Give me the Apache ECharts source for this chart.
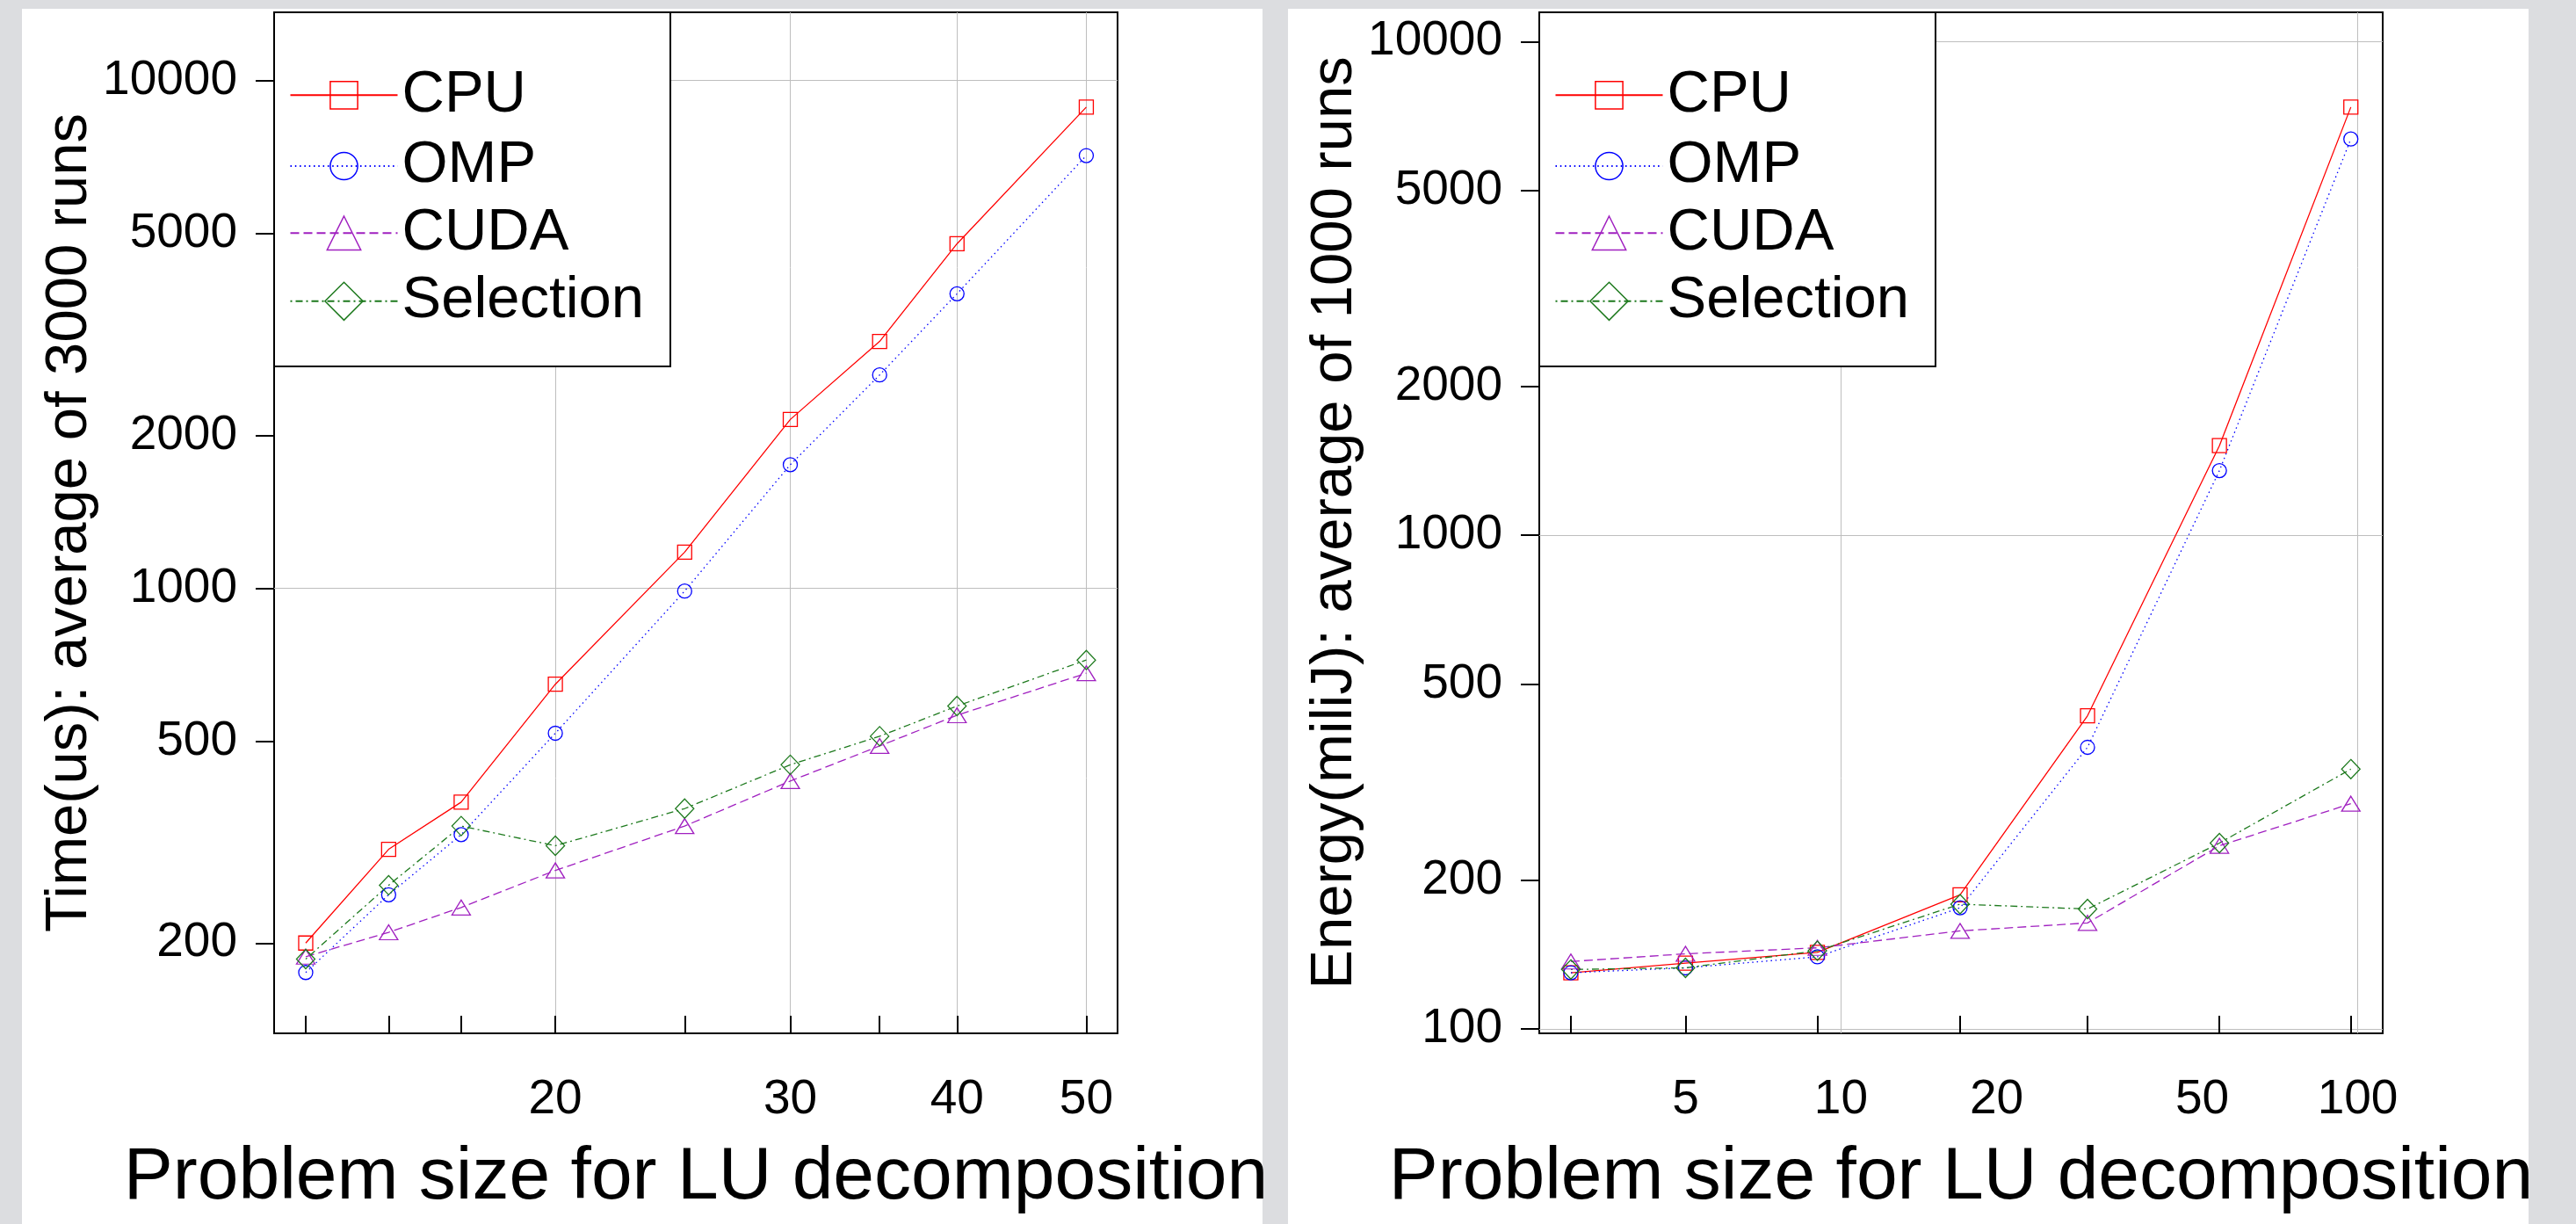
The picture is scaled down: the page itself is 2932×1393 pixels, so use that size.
<!DOCTYPE html>
<html>
<head>
<meta charset="utf-8">
<script src="https://cdn.jsdelivr.net/npm/echarts@6/dist/echarts.min.js"></script>
<style>
html,body{margin:0;padding:0;background:#dcdde0;}
#c{width:2932px;height:1393px;}
</style>
</head>
<body>
<div id="c"></div>
<script>
// ---------------- data ----------------
const seriesNames = ['CPU', 'OMP', 'CUDA', 'Selection'];

// Left panel: time (us), average of 3000 runs
const timeSizes = [13, 15, 17, 20, 25, 30, 35, 40, 50];
const timeCPU = [200, 306, 379, 647, 1178, 2150, 3063, 4770, 8866];
const timeOMP = [175, 249, 327, 518, 987, 1751, 2631, 3802, 7117];
const timeCUDA = [188, 210, 235, 278, 340, 417, 489, 562, 680];
const timeSelection = [186, 260, 340, 311, 368, 449, 511, 586, 722];
const timeXLabels = [20, 30, 40, 50];
const timeXGrid = [20, 30, 40, 50];
const timeYLabels = [200, 500, 1000, 2000, 5000, 10000];
const timeYGrid = [1000, 10000];

// Right panel: energy (miliJ), average of 1000 runs
const energySizes = [3, 5, 9, 17, 30, 54, 97];
const energyCPU = [130, 136, 143, 187, 431, 1519, 7367];
const energyOMP = [130, 133, 140, 176, 372, 1352, 6348];
const energyCUDA = [137, 142, 146, 158, 164, 235, 286];
const energySelection = [132, 133, 144, 179, 175, 238, 336];
const energyXLabels = [5, 10, 20, 50, 100];
const energyXGrid = [10, 100];
const energyYLabels = [100, 200, 500, 1000, 2000, 5000, 10000];
const energyYGrid = [100, 1000, 10000];

const xTitle = 'Problem size for LU decomposition';
const timeYTitle = 'Time(us): average of 3000 runs';
const energyYTitle = 'Energy(miliJ): average of 1000 runs';

// ---------------- style ----------------
const FONT = "'Liberation Sans', Arial, Helvetica, sans-serif";
const styles = {
  CPU:       { color: '#ff0000', symbol: 'rect',     size: 16,       legendH: 39, dash: 'solid' },
  OMP:       { color: '#0000ff', symbol: 'circle',   size: 16,       legendH: 39, dash: [1.5, 3.8] },
  CUDA:      { color: '#a020c0', symbol: 'triangle', size: [21, 17], legendH: 48, dash: [10, 5] },
  Selection: { color: '#1e7a1e', symbol: 'diamond',  size: [21, 22], legendH: 54, dash: [2, 4, 8, 4] }
};
const GRID_COLOR = '#bebebe';
const PLOT_TOP = 14, PLOT_H = 1162, PLOT_W = 960;
const legendRows = [94.3, 175, 255.7, 336.3];

const panels = [
  { left: 312, sizes: timeSizes, vals: [timeCPU, timeOMP, timeCUDA, timeSelection],
    xLabels: timeXLabels, xGrid: timeXGrid, xMin: 12.31, xMax: 52.77,
    yLabels: timeYLabels, yGrid: timeYGrid, yMin: 132.8, yMax: 13630, yTitle: timeYTitle },
  { left: 1752, sizes: energySizes, vals: [energyCPU, energyOMP, energyCUDA, energySelection],
    xLabels: energyXLabels, xGrid: energyXGrid, xMin: 2.606, xMax: 111.8,
    yLabels: energyYLabels, yGrid: energyYGrid, yMin: 98.0, yMax: 11463, yTitle: energyYTitle }
];

const grid = [], xAxis = [], yAxis = [], series = [], legend = [], graphic = [];
const fmt = v => String(Math.round(v));

graphic.push({ type: 'rect', silent: true, z: -10, shape: { x: 25, y: 10, width: 1412, height: 1383 }, style: { fill: '#ffffff' } });
graphic.push({ type: 'rect', silent: true, z: -10, shape: { x: 1466, y: 10, width: 1412, height: 1383 }, style: { fill: '#ffffff' } });

panels.forEach((p, gi) => {
  grid.push({ left: p.left, top: PLOT_TOP, width: PLOT_W, height: PLOT_H, show: true,
    borderColor: '#000', borderWidth: 2, backgroundColor: 'transparent' });

  // x axis with data ticks (inward)
  xAxis.push({ gridIndex: gi, type: 'log', logBase: 10, min: p.xMin, max: p.xMax, position: 'bottom',
    axisLine: { show: false },
    axisTick: { show: true, inside: true, length: 20, lineStyle: { color: '#000', width: 2 }, customValues: p.sizes },
    axisLabel: { show: false }, splitLine: { show: false } });
  // x axis with labels and grid
  xAxis.push({ gridIndex: gi, type: 'log', logBase: 10, min: p.xMin, max: p.xMax, position: 'bottom',
    axisLine: { show: false },
    axisTick: { show: false, customValues: p.xGrid },
    axisLabel: { show: true, customValues: p.xLabels, margin: 48, fontSize: 55, color: '#000', fontFamily: FONT, formatter: fmt },
    splitLine: { show: true, lineStyle: { color: GRID_COLOR, width: 1 } },
    name: xTitle, nameLocation: 'middle', nameGap: 123,
    nameTextStyle: { fontSize: 84, color: '#000', fontFamily: FONT } });

  // y axis with ticks and labels
  yAxis.push({ gridIndex: gi, type: 'log', logBase: 10, min: p.yMin, max: p.yMax, position: 'left',
    axisLine: { show: false },
    axisTick: { show: true, inside: false, length: 21, lineStyle: { color: '#000', width: 2 }, customValues: p.yLabels },
    axisLabel: { show: true, customValues: p.yLabels, margin: 42, fontSize: 55, color: '#000', fontFamily: FONT, formatter: fmt },
    splitLine: { show: false },
    name: p.yTitle, nameLocation: 'middle', nameGap: 199, nameRotate: 90,
    nameTextStyle: { fontSize: 67, color: '#000', fontFamily: FONT } });
  // y axis with grid lines
  yAxis.push({ gridIndex: gi, type: 'log', logBase: 10, min: p.yMin, max: p.yMax, position: 'left',
    axisLine: { show: false },
    axisTick: { show: false, customValues: p.yGrid },
    axisLabel: { show: false },
    splitLine: { show: true, lineStyle: { color: GRID_COLOR, width: 1 } } });

  seriesNames.forEach((name, si) => {
    const st = styles[name];
    series.push({
      type: 'line', name: name, xAxisIndex: gi * 2, yAxisIndex: gi * 2,
      data: p.sizes.map((x, i) => [x, p.vals[si][i]]),
      symbol: st.symbol, symbolSize: st.size, showAllSymbol: true,
      itemStyle: { color: 'rgba(0,0,0,0)', borderColor: st.color, borderWidth: 1.3 },
      lineStyle: { color: st.color, width: 1.3, type: st.dash },
      emphasis: { disabled: true }, z: 3, animation: false
    });
    legend.push({
      show: true, data: [name], left: p.left + 17.5, top: legendRows[si] - st.legendH / 2,
      orient: 'horizontal', padding: 0, itemGap: 0, itemWidth: 122, itemHeight: st.legendH,
      selectedMode: false,
      itemStyle: { borderWidth: 1.5 },
      textStyle: { fontSize: 67, color: '#000', fontFamily: FONT, lineHeight: 30 },
      z: 6
    });
  });

  // legend box
  graphic.push({ type: 'rect', silent: true, z: 1,
    shape: { x: p.left, y: PLOT_TOP, width: 451, height: 403 },
    style: { fill: '#ffffff', stroke: '#000', lineWidth: 2 } });
});

const chart = echarts.init(document.getElementById('c'), null, { renderer: 'canvas' });
chart.setOption({
  backgroundColor: '#dcdde0',
  animation: false,
  textStyle: { fontFamily: FONT },
  grid, xAxis, yAxis, series, legend, graphic
});
</script>
</body>
</html>
